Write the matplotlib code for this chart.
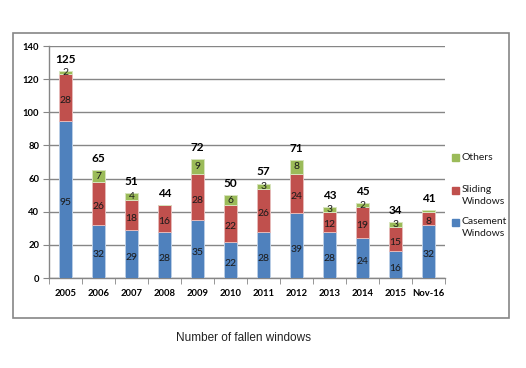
import matplotlib.pyplot as plt
from matplotlib.patches import Rectangle
import numpy as np

years = ['2005', '2006', '2007', '2008', '2009', '2010',
         '2011', '2012', '2013', '2014', '2015', 'Nov-16']
casement = [95, 32, 29, 28, 35, 22, 28, 39, 28, 24, 16, 32]
sliding = [28, 26, 18, 16, 28, 22, 26, 24, 12, 19, 15, 8]
others = [2, 7, 4, 0, 9, 6, 3, 8, 3, 2, 3, 1]

blue = '#4F81BD'
red = '#C0504D'
green = '#9BBB59'
grey = '#868686'

plt.rcParams['font.family'] = ['Lato', 'DejaVu Sans']

W, H = 526, 368
fig = plt.figure(figsize=(W / 100, H / 100), dpi=100)
ax = fig.add_axes([49 / W, 1 - 278 / H, 396 / W, 232 / H])

# outer chart frame
fig.patches.append(Rectangle((13 / W, 1 - 318 / H), 496 / W, 285 / H,
                             transform=fig.transFigure, fill=False,
                             edgecolor=grey, linewidth=1.2))

x = np.arange(len(years))
w = 0.4
b1 = ax.bar(x, casement, w, color=blue, edgecolor='#B9CDE5', linewidth=0.7,
            zorder=3)
b2 = ax.bar(x, sliding, w, bottom=casement, color=red, edgecolor='#E6B9B8',
            linewidth=0.7, zorder=3)
bot2 = np.array(casement) + np.array(sliding)
b3 = ax.bar(x, others, w, bottom=bot2, color=green, edgecolor='#D7E4BD',
            linewidth=0.7, zorder=3)

# segment labels
for i in range(len(years)):
    ax.text(x[i], casement[i] / 2 - 2, str(casement[i]), ha='center',
            va='center', fontsize=7.5, color='#1a1a1a', zorder=4)
    ax.text(x[i], casement[i] + sliding[i] / 2 - 2, str(sliding[i]),
            ha='center', va='center', fontsize=7.5, color='#1a1a1a', zorder=4)
    if others[i] >= 2:
        ax.text(x[i], bot2[i] + others[i] / 2, str(others[i]), ha='center',
                va='center', fontsize=7.5, color='#1a1a1a', zorder=4)
    total = casement[i] + sliding[i] + others[i]
    ax.text(x[i], total + 7, str(total), ha='center', va='center',
            fontsize=8.5, fontweight='bold', color='black', zorder=4)

ax.set_xlim(-0.5, len(years) - 0.5)
ax.set_ylim(0, 140)
ax.set_yticks(range(0, 141, 20))
ax.set_xticks(x)
ax.set_xticklabels(years)
ax.set_xticks(np.arange(-0.5, len(years), 1), minor=True)
ax.tick_params(axis='x', which='major', length=0, pad=8, labelsize=6.8)
ax.tick_params(axis='x', which='minor', length=4, color=grey)
ax.tick_params(axis='y', length=4, color=grey, labelsize=6.8, pad=3)
for lab in ax.get_xticklabels() + ax.get_yticklabels():
    lab.set_fontweight('bold')
ax.grid(axis='y', color=grey, linewidth=1, zorder=0)
for s in ['top', 'right']:
    ax.spines[s].set_visible(False)
for s in ['left', 'bottom']:
    ax.spines[s].set_color(grey)
    ax.spines[s].set_linewidth(1)

# legend, drawn by hand so the square sits on the first line like Excel
legend_items = [('Others', green, 158), ('Sliding\nWindows', red, 190),
                ('Casement\nWindows', blue, 222)]
for label, col, yy in legend_items:
    fig.patches.append(Rectangle((452 / W, 1 - (yy + 3.5) / H), 7 / W, 7 / H,
                                 transform=fig.transFigure, color=col))
    for k, line in enumerate(label.split('\n')):
        fig.text(462 / W, 1 - (yy + 11.5 * k) / H, line, ha='left',
                 va='center', fontsize=7.5, color='#1a1a1a')

fig.text(243 / W, 1 - 338 / H, 'Number of fallen windows', ha='center',
         va='center', fontsize=8.5, family='Liberation Sans', color='#222222')

fig.savefig('out.png', dpi=100)
